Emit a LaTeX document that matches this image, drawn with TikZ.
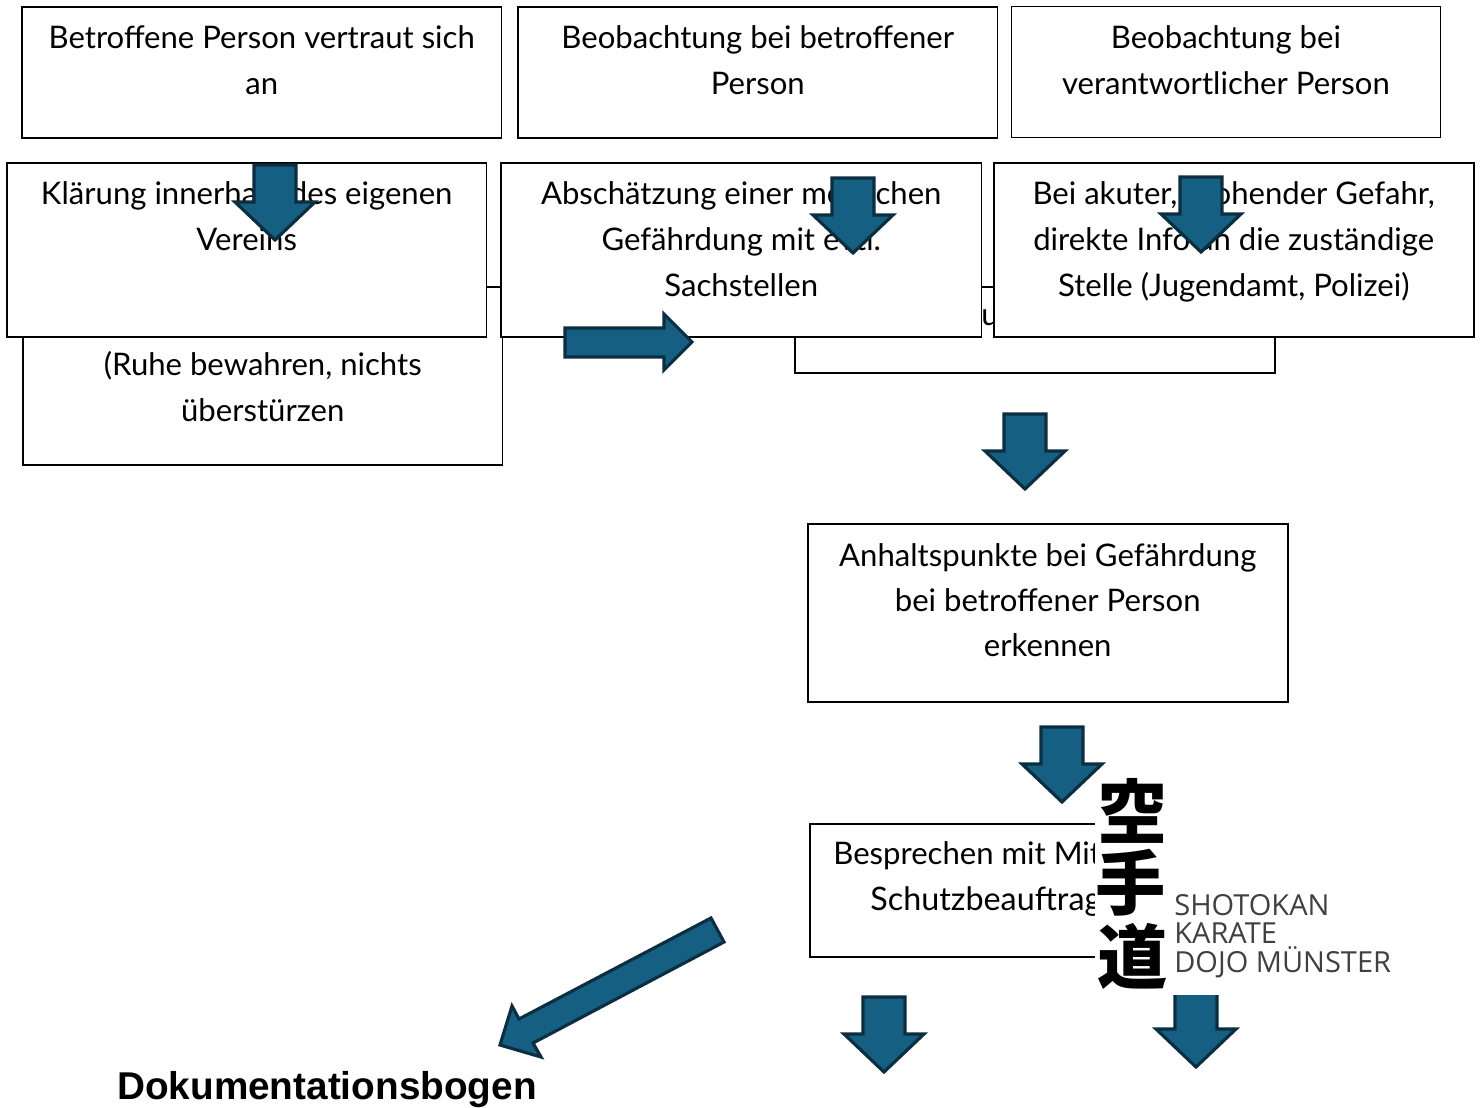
\documentclass[tikz,border=0pt]{standalone}
\usepackage{fontspec}
\usepackage[rgb]{xcolor}
\setmainfont{Lato}
\newfontfamily\cjk{Noto Sans CJK JP}
\newfontfamily\logofont{Open Sans}
\newfontfamily\headfont{Liberation Sans}
\definecolor{arrowfill}{HTML}{156082}
\definecolor{arrowline}{HTML}{0B2E40}

\begin{document}
\begin{tikzpicture}[x=0.02cm, y=-0.02cm,
  flowbox/.style={draw=black, fill=white, line width=0.9pt, anchor=north west, inner sep=0pt},
  flowtext/.style={anchor=north, align=center, inner sep=0pt, font=\fontsize{17.7}{26.2}\selectfont},
  blockarrow/.style={draw=arrowline, fill=arrowfill, line width=1.8pt, miter limit=10},
  logotext/.style={anchor=west, inner sep=0pt, text=black!75, font=\logofont\fontsize{16.5}{16.5}\selectfont},
  kanji/.style={inner sep=0pt, font=\cjk\bfseries\fontsize{40}{40}\selectfont}]

\useasboundingbox (1,1) rectangle (1482,1109);

% boxes lying behind the front row
\node (ruhebox) [flowbox, minimum width=9.6cm, minimum height=3.56cm] at (23,287) {};
\path (ruhebox.north) +(0,65) node (ruhetext) [flowtext] {(Ruhe bewahren, nichts\\überstürzen};
\node (hiddenbox) [flowbox, minimum width=9.6cm, minimum height=1.72cm] at (795,287) {};
\path (991,319) node (hiddentext) [font=\fontsize{17.7}{26.2}\selectfont, inner sep=0pt] {u};

% first row
\node (betroffenbox) [flowbox, minimum width=9.6cm, minimum height=2.62cm] at (22,7) {};
\node (beobachtbox) [flowbox, minimum width=9.6cm, minimum height=2.62cm] at (518,7) {};
\node (verantwbox) [flowbox, line width=0.5pt, minimum width=8.58cm, minimum height=2.62cm] at (1012,7) {};
\path
(betroffenbox.north) +(0,19) node (betroffentext) [flowtext] {Betroffene Person vertraut sich\\an}
(beobachtbox.north) +(0,19) node (beobachttext) [flowtext] {Beobachtung bei betroffener\\Person}
(verantwbox.north) +(0,19) node (verantwtext) [flowtext] {Beobachtung bei\\verantwortlicher Person};

% second row
\node (klaerbox) [flowbox, minimum width=9.6cm, minimum height=3.48cm] at (7,163) {};
\node (schaetzbox) [flowbox, minimum width=9.62cm, minimum height=3.48cm] at (501,163) {};
\node (gefahrbox) [flowbox, minimum width=9.6cm, minimum height=3.48cm] at (994,163) {};
\path
(klaerbox.north) +(0,19) node (klaertext) [flowtext] {Klärung innerhalb des eigenen\\Vereins}
(schaetzbox.north) +(0,19) node (schaetztext) [flowtext] {Abschätzung einer möglichen\\Gefährdung mit evtl.\\Sachstellen}
(gefahrbox.north) +(0,19) node (gefahrtext) [flowtext] {Bei akuter, drohender Gefahr,\\direkte Info an die zuständige\\Stelle (Jugendamt, Polizei)};

% lower boxes
\node (anhaltbox) [flowbox, minimum width=9.6cm, minimum height=3.56cm] at (808,524) {};
\path (anhaltbox.north) +(0,20) node (anhalttext) [flowtext, font=\fontsize{17.7}{25.6}\selectfont] {Anhaltspunkte bei Gefährdung\\bei betroffener Person\\erkennen};
\node (sprechbox) [flowbox, minimum width=9.6cm, minimum height=2.66cm] at (810,824) {};
\path
(834,857) node (sprechtext) [anchor=west, inner sep=0pt, font=\fontsize{17.7}{26.2}\selectfont] {Besprechen mit Mit}
(871,903) node (schutztext) [anchor=west, inner sep=0pt, font=\fontsize{18.4}{26.2}\selectfont] {Schutzbeauftrag};

% block arrows going down
\foreach \ax/\atop in {276/166, 854/179, 1202/178, 1026/415, 1063/728, 885/998, 1197/993}
 {
 \draw[blockarrow] (\ax-21,\atop) -- (\ax+21,\atop) -- (\ax+21,\atop+37) -- (\ax+40,\atop+37)
   -- (\ax,\atop+75) -- (\ax-40,\atop+37) -- (\ax-21,\atop+37) -- cycle;
 }

% arrow to the right and arrow to the form
\draw[blockarrow] (566,329) -- (665,329) -- (665,315) -- (693,343) -- (665,371) -- (665,358) -- (566,358) -- cycle;
\draw[blockarrow] (712,919) -- (725,943) -- (534,1044) -- (542,1058) -- (501,1046) -- (513,1007) -- (520,1020) -- cycle;

\path (328,1091) node (bogentext) [inner sep=0pt, font=\headfont\bfseries\fontsize{22.05}{22.05}\selectfont] {Dokumentationsbogen};

% logo on its white ground
\node (logoback) [fill=white, anchor=north west, inner sep=0pt, minimum width=6.1cm, minimum height=4.4cm] at (1096,776) {};
\path
(1134,812) node (kanjisky) [kanji] {空}
(1132,884) node (kanjihand) [kanji] {手}
(1134,957) node (kanjiway) [kanji] {道}
(1175,906) node (logoone) [logotext] {SHOTOKAN}
(1175,934) node (logotwo) [logotext] {KARATE}
(1175,963) node (logothree) [logotext] {DOJO MÜNSTER};

\end{tikzpicture}
\end{document}
